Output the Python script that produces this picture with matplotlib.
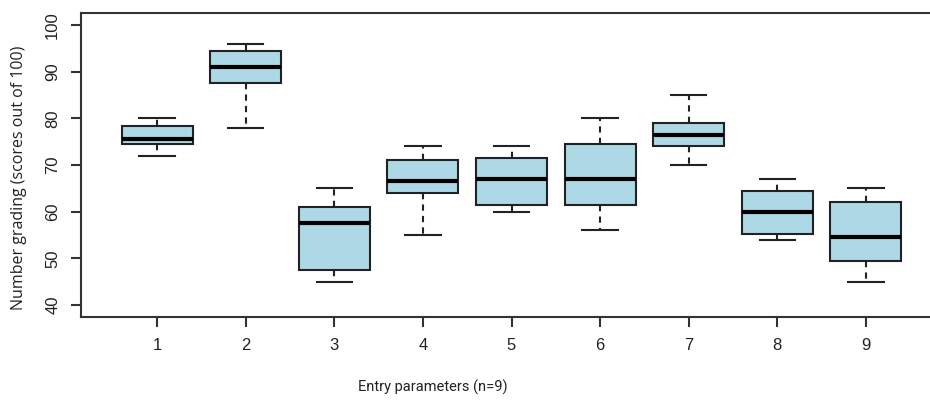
import matplotlib
matplotlib.use('Agg')
import matplotlib.pyplot as plt

# five-number summaries (min, q1, median, q3, max)
groups = ['1', '2', '3', '4', '5', '6', '7', '8', '9']
whisk_lo = [72, 78, 45, 55, 60, 56, 70, 54, 45]
q1 = [74.6, 87.6, 47.5, 64, 61.5, 61.5, 74, 55.3, 49.5]
med = [75.5, 91, 57.5, 66.5, 67, 67, 76.5, 60, 54.5]
q3 = [78.4, 94.5, 61, 71, 71.5, 74.5, 79, 64.4, 62]
whisk_hi = [80, 96, 65, 74, 74, 80, 85, 67, 65]
yticks = [40, 50, 60, 70, 80, 90, 100]

stats = []
for i, g in enumerate(groups):
    stats.append({'label': g, 'whislo': whisk_lo[i], 'q1': q1[i], 'med': med[i],
                  'q3': q3[i], 'whishi': whisk_hi[i], 'fliers': []})

fig = plt.figure(figsize=(9.3, 4.05), dpi=100)
ax = fig.add_axes([81 / 930, 88 / 405, 861 / 930, 304 / 405])

axcol = '#333333'
ax.bxp(stats, positions=range(1, 10), widths=0.8, patch_artist=True,
       showfliers=False,
       boxprops=dict(facecolor='#add8e6', edgecolor='#222222', linewidth=1.5),
       medianprops=dict(color='black', linewidth=3),
       whiskerprops=dict(color='#222222', linewidth=1.5, linestyle=(0, (3, 2.5))),
       capprops=dict(color='#222222', linewidth=1.5),
       capwidths=0.4)

ax.set_xlim(0.14, 9.86)
ax.set_ylim(37.4, 102.6)
ax.set_yticks(yticks)
ax.set_yticklabels([str(t) for t in yticks], rotation=90, va='center')
ax.set_xticks(range(1, 10))
ax.set_xticklabels(groups)

# the source image is cropped on the right, so no right frame line
ax.spines['right'].set_visible(False)
for sp in ax.spines.values():
    sp.set_color(axcol)
    sp.set_linewidth(1.5)
ax.tick_params(axis='both', direction='out', length=7, width=1.5, color=axcol,
               labelsize=12, labelcolor='#222222', pad=8)
for lab in ax.get_xticklabels() + ax.get_yticklabels():
    lab.set_family('Liberation Sans')

fig.text(433 / 930, 1 - 387 / 405, 'Entry parameters (n=9)', ha='center', va='center',
         family='Roboto', fontsize=10.5, color='#222222')
fig.text(19 / 930, 1 - 178 / 405, 'Number grading (scores out of 100)', ha='center',
         va='center', rotation=90, family='Open Sans', fontsize=11.5, color='#222222')

fig.savefig('out.png', dpi=100, facecolor='white')
